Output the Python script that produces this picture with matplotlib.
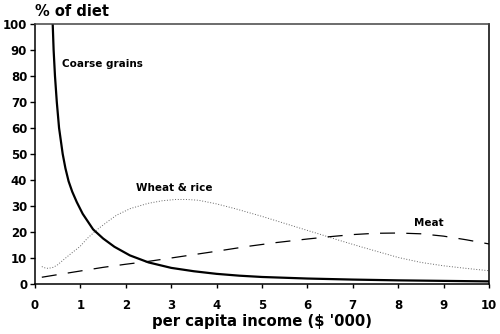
import matplotlib
matplotlib.use("Agg")
import matplotlib.pyplot as plt

coarse_x = [0.39, 0.41, 0.44, 0.48, 0.53, 0.61, 0.67, 0.74, 0.82, 0.92, 1.05, 1.28, 1.5, 1.75, 2.09, 2.5, 3.0, 3.5, 4.0, 4.5, 5.0, 6.0, 7.0, 8.0, 9.0, 10.0]
coarse_y = [100, 90, 80, 70, 60, 50, 44.5, 39.5, 35.5, 31.5, 27.0, 21.0, 17.5, 14.3, 11.0, 8.3, 6.2, 4.9, 3.9, 3.2, 2.7, 2.1, 1.7, 1.4, 1.2, 1.0]

wheat_x = [0.15, 0.22, 0.29, 0.4, 0.5, 0.62, 0.8, 0.99, 1.15, 1.36, 1.6, 1.8, 2.1, 2.49, 2.8, 3.1, 3.35, 3.6, 4.0, 4.4, 4.74, 5.0, 5.5, 6.0, 6.3, 6.7, 7.2, 7.6, 8.0, 8.5, 9.0, 9.5, 10.0]
wheat_y = [6.7, 6.2, 6.0, 6.4, 7.4, 9.2, 11.8, 14.4, 17.5, 20.8, 24.0, 26.5, 29.0, 31.0, 32.0, 32.5, 32.5, 32.2, 30.8, 29.0, 27.3, 26.0, 23.3, 20.6, 19.0, 16.8, 14.2, 12.2, 10.2, 8.3, 7.0, 6.0, 5.1]

meat_x = [0.15, 0.5, 1.0, 1.5, 2.0, 2.46, 3.0, 3.5, 4.0, 4.7, 5.3, 6.0, 6.5, 7.0, 7.5, 8.0, 8.5, 9.0, 9.5, 10.0]
meat_y = [2.6, 3.6, 5.0, 6.4, 7.6, 8.6, 10.0, 11.3, 12.6, 14.5, 15.9, 17.3, 18.2, 19.0, 19.5, 19.6, 19.3, 18.4, 17.0, 15.4]

xticks = list(range(0, 11))
yticks = list(range(0, 101, 10))

plt.rcParams['font.family'] = ['DejaVu Sans']
plt.rcParams['font.weight'] = 'bold'

fig = plt.figure(figsize=(5.0, 3.34), dpi=100)
ax = fig.add_axes([0.07, 0.1497, 0.908, 0.7787])

ax.plot(coarse_x, coarse_y, color='black', lw=1.6, solid_joinstyle='round')
ax.plot(wheat_x, wheat_y, color='#666666', lw=0.7, linestyle=(0, (1, 1.8)))
ax.plot(meat_x, meat_y, color='black', lw=0.9, linestyle=(0, (12, 9)))

ax.set_xlim(0, 10)
ax.set_ylim(0, 100)
ax.set_xticks(xticks)
ax.set_yticks(yticks)
ax.tick_params(axis='x', direction='out', length=3, width=1, labelsize=8.5, pad=8)
ax.tick_params(axis='y', direction='out', length=3.6, width=1, labelsize=8.5, pad=2)
for lab in ax.get_xticklabels() + ax.get_yticklabels():
    lab.set_fontweight('bold')
for s in ax.spines.values():
    s.set_linewidth(1.1)
ax.spines['top'].set_color('#444444')

ax.text(0.0, 1.02, '% of diet', transform=ax.transAxes, ha='left', va='bottom',
        fontsize=10.5, fontweight='bold')
ax.set_xlabel("per capita income ($ '000)", fontsize=10.7, fontweight='bold', labelpad=1)

ax.text(0.595, 84.6, 'Coarse grains', fontsize=7.5, fontweight='bold', va='center', ha='left')
ax.text(2.22, 37.1, 'Wheat & rice', fontsize=7.5, fontweight='bold', va='center', ha='left')
ax.text(8.35, 23.5, 'Meat', fontsize=7.5, fontweight='bold', va='center', ha='left')

fig.savefig('out.png', dpi=100)
